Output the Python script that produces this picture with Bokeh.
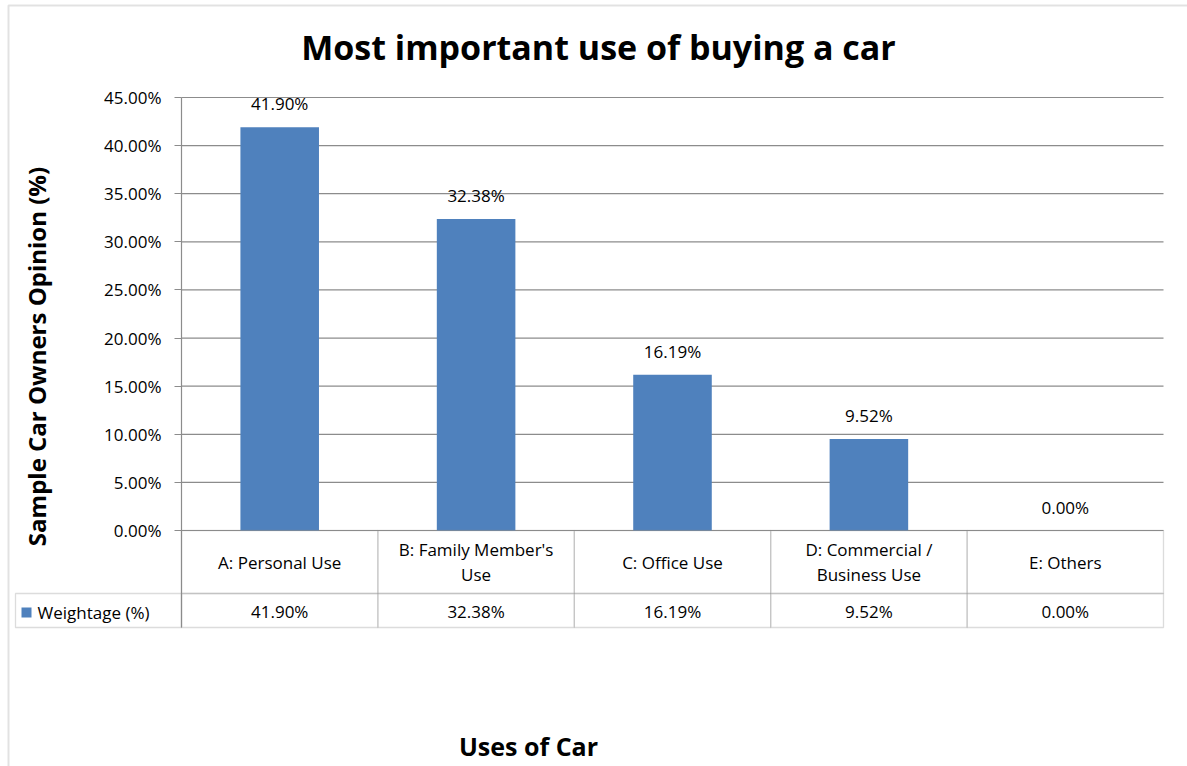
import math
from bokeh.plotting import figure
from bokeh.models import Range1d, FixedTicker, PrintfTickFormatter, Label, BoxAnnotation, ColumnDataSource
from bokeh.embed import file_html
from bokeh.resources import INLINE
from bokeh.core.properties import value

# ---------------- data ----------------
categories = ["A: Personal Use", "B: Family Member's\nUse", "C: Office Use",
              "D: Commercial /\nBusiness Use", "E: Others"]
weightage = [41.90, 32.38, 16.19, 9.52, 0.00]
y_ticks = [0, 5, 10, 15, 20, 25, 30, 35, 40, 45]
series_name = "Weightage (%)"
title_text = "Most important use of buying a car"
y_label_text = "Sample Car Owners Opinion (%)"
x_label_text = "Uses of Car"

# ---------------- layout constants (pixels) ----------------
W, H = 1187, 766
PX0, PX1 = 181, 1163          # plot-area left/right
PY_TOP, PY_ZERO = 97, 530     # 45% and 0% lines
YMAX = 45
FONT = "Open Sans"
GRAY = "#8c8c8c"
BLUE = "#4f81bd"
SMALL = "17px"
N = len(categories)


def dx(px):
    return (px - PX0) / (PX1 - PX0) * N


def dy(py):
    return (PY_ZERO - py) / (PY_ZERO - PY_TOP) * YMAX


p = figure(width=W, height=H, x_range=Range1d(dx(0), dx(W)), y_range=Range1d(dy(H), dy(0)),
           output_backend="svg", toolbar_location=None, x_axis_location=None,
           title_location=None,
           min_border_left=0, min_border_right=0, min_border_top=0, min_border_bottom=0)
p.outline_line_color = None
p.background_fill_color = "white"
p.border_fill_color = "white"
p.xgrid.visible = False
p.ygrid.visible = False

# horizontal gridlines across the plot area only
p.segment(x0=[0] * len(y_ticks), x1=[N] * len(y_ticks), y0=y_ticks, y1=y_ticks,
          line_color=GRAY, line_width=1.2)

# y axis, fixed at the left edge of the plot area
ax = p.yaxis[0]
ax.fixed_location = 0
ax.ticker = FixedTicker(ticks=y_ticks)
ax.formatter = PrintfTickFormatter(format="%.2f%%")
ax.bounds = (dy(627), YMAX)
ax.axis_line_color = GRAY
ax.axis_line_width = 1.2
ax.major_tick_line_color = GRAY
ax.major_tick_line_width = 1.2
ax.major_tick_out = 7
ax.major_tick_in = 0
ax.minor_tick_out = 0
ax.minor_tick_in = 0
ax.major_label_text_font = FONT
ax.major_label_text_font_size = SMALL
ax.major_label_text_color = "black"
ax.major_label_standoff = 13

xs = [i + 0.5 for i in range(N)]
src = ColumnDataSource(dict(
    x=xs, top=weightage,
    lab=["%.2f%%" % v for v in weightage],
    cat=categories,
))

p.vbar(x="x", top="top", width=0.4, source=src, fill_color=BLUE, line_color=None)

# data labels above bars
p.text(x="x", y="top", text="lab", source=src, text_align="center", text_baseline="bottom",
       y_offset=-12, text_font=value(FONT), text_font_size=SMALL, text_color="black")

# data table cells
ROW1_TOP, ROW1_BOT, ROW2_BOT = 530, 593, 627
for i in range(N):
    for (t, b) in [(ROW1_TOP, ROW1_BOT), (ROW1_BOT, ROW2_BOT)]:
        p.add_layout(BoxAnnotation(left=i, right=i + 1, top=dy(t), bottom=dy(b),
                                   fill_alpha=0, line_color=GRAY, line_width=1.3))
p.add_layout(BoxAnnotation(left=dx(15), right=0, top=dy(ROW1_BOT), bottom=dy(ROW2_BOT),
                           fill_alpha=0, line_color=GRAY, line_width=1.3))

# category labels (row 1)
p.text(x="x", y=dy((ROW1_TOP + ROW1_BOT) / 2), text="cat", source=src, text_align="center",
       text_baseline="middle", text_font=value(FONT), text_font_size=SMALL,
       text_line_height=1.08, text_color="black")
# value labels (row 2)
p.text(x="x", y=dy((ROW1_BOT + ROW2_BOT) / 2 + 1), text="lab", source=src, text_align="center",
       text_baseline="middle", text_font=value(FONT), text_font_size=SMALL, text_color="black")

# legend key + series name
p.add_layout(BoxAnnotation(left=dx(21), right=dx(31), top=dy(607), bottom=dy(617),
                           fill_color=BLUE, fill_alpha=1, line_color=None))
p.add_layout(Label(x=dx(37), y=dy(612), text=series_name, text_align="left",
                   text_baseline="middle", text_font=FONT, text_font_size=SMALL,
                   text_color="black"))

# title and axis titles
p.add_layout(Label(x=dx(598), y=dy(46), text=title_text, text_align="center",
                   text_baseline="middle", text_font=FONT, text_font_size="34px",
                   text_font_style="bold", text_color="black"))
p.add_layout(Label(x=dx(36), y=dy(356), text=y_label_text, angle=math.pi / 2,
                   text_align="center", text_baseline="middle", text_font=FONT,
                   text_font_size="24px", text_font_style="bold", text_color="black"))
p.add_layout(Label(x=dx(528), y=dy(745), text=x_label_text, text_align="center",
                   text_baseline="middle", text_font=FONT, text_font_size="25px",
                   text_font_style="bold", text_color="black"))

# outer chart-area border
p.add_layout(BoxAnnotation(left=dx(8), right=dx(1300), top=dy(5), bottom=dy(900),
                           fill_alpha=0, line_color="#a0a0a0", line_width=2))

open("out.html", "w").write(file_html(p, INLINE))
